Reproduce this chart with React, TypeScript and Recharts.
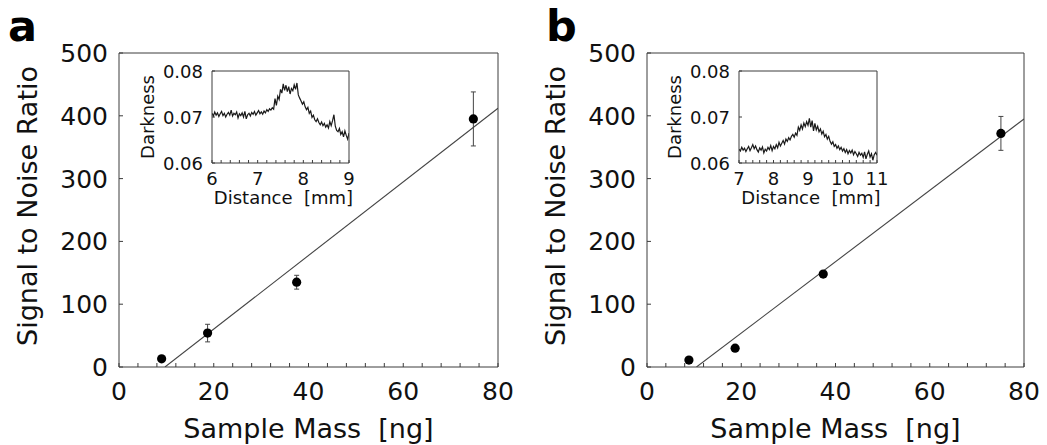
import React from 'react';
import { ComposedChart, LineChart, Line, Scatter, XAxis, YAxis, ErrorBar, Label } from 'recharts';

const FONT = '"DejaVu Sans", Verdana, sans-serif';
const INK = '#111';
const FRAME = '#3c3c3c';

// ---- Panel a (main) ----
const massA = [9.0, 18.7, 37.5, 74.8];
const snrA = [13, 54, 135, 395];
const errA = [0, 14, 11, 43];
const fitMassA = [9.7, 80];
const fitSnrA = [0, 412];

// ---- Panel b (main) ----
const massB = [8.9, 18.7, 37.4, 75.1];
const snrB = [11, 30, 148, 372];
const errB = [0, 0, 0, 27];
const fitMassB = [10.5, 80];
const fitSnrB = [0, 395];

const massTicks = [0, 20, 40, 60, 80];
const massMinorTicks = [0, 4, 8, 12, 16, 20, 24, 28, 32, 36, 40, 44, 48, 52, 56, 60, 64, 68, 72, 76, 80];
const snrTicks = [0, 100, 200, 300, 400, 500];

// ---- Inset a ----
const distStartA = 6;
const distStepA = 0.03;
const darknessA = [
  0.0708, 0.0702, 0.0711, 0.0704, 0.0709, 0.0701, 0.0707, 0.0712, 0.0703, 0.0708, 0.0700,
  0.0706, 0.0710, 0.0704, 0.0715, 0.0702, 0.0708, 0.0705, 0.0711, 0.0698, 0.0707,
  0.0703, 0.0709, 0.0700, 0.0712, 0.0696, 0.0705, 0.0708, 0.0702, 0.0710, 0.0706,
  0.0712, 0.0704, 0.0709, 0.0714, 0.0707, 0.0711, 0.0706, 0.0713, 0.0709, 0.0716,
  0.0712, 0.0718, 0.0715, 0.0720, 0.0717, 0.0740, 0.0725, 0.0745, 0.0738, 0.0760,
  0.0752, 0.0772, 0.0758, 0.0769, 0.0755, 0.0766, 0.0750, 0.0762, 0.0757, 0.0770,
  0.0760, 0.0774, 0.0748, 0.0741, 0.0735, 0.0728, 0.0733, 0.0722, 0.0716, 0.0721,
  0.0708, 0.0713, 0.0699, 0.0704, 0.0694, 0.0690, 0.0696, 0.0688, 0.0683, 0.0689,
  0.0681, 0.0686, 0.0678, 0.0683, 0.0676, 0.0690, 0.0681, 0.0692, 0.0705, 0.0680,
  0.0671, 0.0668, 0.0675, 0.0662, 0.0668, 0.0657, 0.0670, 0.0660, 0.0652, 0.0665,
];
const distTicksA = [6, 7, 8, 9];
const distMinorA = [6, 6.2, 6.4, 6.6, 6.8, 7, 7.2, 7.4, 7.6, 7.8, 8, 8.2, 8.4, 8.6, 8.8, 9];

// ---- Inset b ----
const distStartB = 7;
const distStepB = 0.04;
const darknessB = [
  0.0630, 0.0626, 0.0634, 0.0628, 0.0632, 0.0625, 0.0631, 0.0636, 0.0627, 0.0633, 0.0640,
  0.0631, 0.0637, 0.0629, 0.0624, 0.0633, 0.0628, 0.0635, 0.0622, 0.0630, 0.0626,
  0.0634, 0.0629, 0.0638, 0.0627, 0.0636, 0.0631, 0.0640, 0.0633, 0.0645, 0.0637,
  0.0643, 0.0649, 0.0641, 0.0652, 0.0647, 0.0655, 0.0650, 0.0658, 0.0662, 0.0656,
  0.0665, 0.0660, 0.0678, 0.0671, 0.0683, 0.0674, 0.0687, 0.0679, 0.0690, 0.0682,
  0.0697, 0.0678, 0.0692, 0.0670, 0.0686, 0.0672, 0.0680, 0.0668, 0.0674, 0.0663,
  0.0669, 0.0657, 0.0662, 0.0652, 0.0658, 0.0647, 0.0641, 0.0646, 0.0636, 0.0640,
  0.0632, 0.0637, 0.0629, 0.0634, 0.0626, 0.0631, 0.0623, 0.0629, 0.0620, 0.0627,
  0.0622, 0.0628, 0.0618, 0.0625, 0.0620, 0.0614, 0.0623, 0.0617, 0.0621, 0.0612,
  0.0624, 0.0609, 0.0619, 0.0626, 0.0613, 0.0620, 0.0606, 0.0618, 0.0623, 0.0617,
];
const distTicksB = [7, 8, 9, 10, 11];
const distMinorB = [7, 7.2, 7.4, 7.6, 7.8, 8, 8.2, 8.4, 8.6, 8.8, 9, 9.2, 9.4, 9.6, 9.8, 10, 10.2, 10.4, 10.6, 10.8, 11];

const darkTicks = [0.06, 0.07, 0.08];

// ---------- tick renderers ----------
const MainXTick = (p: any) => {
  const v = p.payload.value;
  if (!massTicks.includes(v)) return <g />;
  return (
    <text x={p.x} y={p.y + 33} textAnchor="middle" fontSize={25} fontFamily={FONT} fill={INK}>
      {v}
    </text>
  );
};

const MainYTick = (p: any) => (
  <text x={p.x} y={p.y + 9} textAnchor="end" fontSize={25} fontFamily={FONT} fill={INK}>
    {p.payload.value}
  </text>
);

const makeInsetXTick = (major: number[]) => (p: any) => {
  const v = p.payload.value;
  if (!major.includes(v)) return <g />;
  return (
    <text x={p.x} y={p.y + 22} textAnchor="middle" fontSize={18} fontFamily={FONT} fill={INK}>
      {v}
    </text>
  );
};

const InsetYTick = (p: any) => (
  <text x={p.x} y={p.y + 6.5} textAnchor="end" fontSize={18} fontFamily={FONT} fill={INK}>
    {Number(p.payload.value).toFixed(2)}
  </text>
);

const Dot = (p: any) => <circle cx={p.cx} cy={p.cy} r={4.6} fill="#000" />;

type Margin = { top: number; right: number; bottom: number; left: number };

function MainPanel(props: {
  mass: number[]; snr: number[]; err: number[]; fitMass: number[]; fitSnr: number[];
  left: number; width: number; margin: Margin;
}) {
  const { mass, snr, err, fitMass, fitSnr, left, width, margin } = props;
  const points = mass.map((m, i) => ({ mass: m, snr: snr[i], err: err[i] }));
  const fit = fitMass.map((m, i) => ({ mass: m, snr: fitSnr[i] }));
  return (
    <div style={{ position: 'absolute', left, top: 0 }}>
      <ComposedChart width={width} height={445} margin={margin}>
        <XAxis xAxisId="b" type="number" dataKey="mass" domain={[0, 80]} ticks={massMinorTicks}
          orientation="bottom" height={1} tickSize={-4} tickMargin={4} stroke={FRAME}
          tick={MainXTick} interval={0} allowDataOverflow>
          <Label content={(lp: any) => {
            const vb = lp.viewBox;
            return (
              <text x={vb.x + vb.width / 2} y={vb.y + 71} textAnchor="middle" fontSize={27}
                fontFamily={FONT} fill={INK}>{'Sample Mass\u00a0\u00a0[ng]'}</text>
            );
          }} />
        </XAxis>
        <XAxis xAxisId="t" type="number" dataKey="mass" domain={[0, 80]} ticks={massMinorTicks}
          orientation="top" height={1} tickSize={-4} stroke={FRAME} tick={false} interval={0} allowDataOverflow />
        <YAxis yAxisId="l" type="number" domain={[0, 500]} ticks={snrTicks} width={1}
          tickSize={-4} tickMargin={15} stroke={FRAME} tick={MainYTick} interval={0} allowDataOverflow>
          <Label content={(lp: any) => {
            const vb = lp.viewBox;
            const cx = vb.x - 81;
            const cy = vb.y + vb.height / 2 - 4;
            return (
              <text transform={`translate(${cx},${cy}) rotate(-90)`} x={0} y={0} textAnchor="middle"
                fontSize={27} fontFamily={FONT} fill={INK}>Signal to Noise Ratio</text>
            );
          }} />
        </YAxis>
        <YAxis yAxisId="r" orientation="right" type="number" domain={[0, 500]} ticks={snrTicks} width={1}
          tickSize={-4} stroke={FRAME} tick={false} interval={0} allowDataOverflow />
        <Line xAxisId="b" yAxisId="l" data={fit} dataKey="snr" type="linear" dot={false} activeDot={false}
          stroke="#444" strokeWidth={1.1} isAnimationActive={false} />
        <Scatter xAxisId="b" yAxisId="l" data={points} dataKey="snr" shape={Dot} isAnimationActive={false}>
          <ErrorBar dataKey="err" direction="y" width={2.5} stroke="#444" strokeWidth={1} />
        </Scatter>
      </ComposedChart>
    </div>
  );
}

function Inset(props: {
  start: number; step: number; values: number[]; major: number[]; minor: number[];
  domain: [number, number]; left: number; width: number; margin: Margin;
}) {
  const { start, step, values, major, minor, domain, left, width, margin } = props;
  const data = values.map((v, i) => ({ dist: Math.round((start + i * step) * 1000) / 1000, dark: v }));
  return (
    <div style={{ position: 'absolute', left, top: 55 }}>
      <LineChart width={width} height={155} margin={margin} data={data}>
        <XAxis xAxisId="b" type="number" dataKey="dist" domain={domain} ticks={minor} height={1}
          tickSize={-3} tickMargin={3} stroke={FRAME} interval={0} tick={makeInsetXTick(major)} allowDataOverflow>
          <Label content={(lp: any) => {
            const vb = lp.viewBox;
            return (
              <text x={vb.x + vb.width / 2 + 3} y={vb.y + 41} textAnchor="middle" fontSize={18}
                fontFamily={FONT} fill={INK}>{'Distance\u00a0\u00a0[mm]'}</text>
            );
          }} />
        </XAxis>
        <XAxis xAxisId="t" orientation="top" type="number" dataKey="dist" domain={domain} ticks={minor} height={1}
          tickSize={-3} stroke={FRAME} interval={0} tick={false} allowDataOverflow />
        <YAxis yAxisId="l" type="number" domain={[0.06, 0.08]} ticks={darkTicks} width={1}
          tickSize={-3} tickMargin={12} stroke={FRAME} interval={0} tick={InsetYTick} allowDataOverflow>
          <Label content={(lp: any) => {
            const vb = lp.viewBox;
            const cx = vb.x - 57;
            const cy = vb.y + vb.height / 2;
            return (
              <text transform={`translate(${cx},${cy}) rotate(-90)`} x={0} y={0} textAnchor="middle"
                fontSize={18} fontFamily={FONT} fill={INK}>Darkness</text>
            );
          }} />
        </YAxis>
        <YAxis yAxisId="r" orientation="right" type="number" domain={[0.06, 0.08]} ticks={darkTicks} width={1}
          tickSize={-3} stroke={FRAME} interval={0} tick={false} allowDataOverflow />
        <Line xAxisId="b" yAxisId="l" dataKey="dark" type="linear" dot={false} activeDot={false}
          stroke="#1a1a1a" strokeWidth={1.2} isAnimationActive={false} />
      </LineChart>
    </div>
  );
}

export default function App() {
  return (
    <div style={{ position: 'absolute', left: 0, top: 0, width: 1047, height: 445, background: '#fff', overflow: 'hidden' }}>
      <MainPanel mass={massA} snr={snrA} err={errA} fitMass={fitMassA} fitSnr={fitSnrA}
        left={0} width={520} margin={{ top: 52, right: 21, bottom: 77, left: 118 }} />
      <MainPanel mass={massB} snr={snrB} err={errB} fitMass={fitMassB} fitSnr={fitSnrB}
        left={528} width={519} margin={{ top: 52, right: 22, bottom: 77, left: 118 }} />
      <Inset start={distStartA} step={distStepA} values={darknessA} major={distTicksA} minor={distMinorA}
        domain={[6, 9]} left={125} width={255} margin={{ top: 15, right: 30, bottom: 46, left: 86 }} />
      <Inset start={distStartB} step={distStepB} values={darknessB} major={distTicksB} minor={distMinorB}
        domain={[7, 11]} left={650} width={257} margin={{ top: 15, right: 29, bottom: 46, left: 88 }} />
      <svg width={1047} height={60} style={{ position: 'absolute', left: 0, top: 0 }}>
        <text x={8} y={41} fontFamily={FONT} fontWeight="bold" fontSize={43} fill="#000">a</text>
        <text x={546} y={41} fontFamily={FONT} fontWeight="bold" fontSize={43} fill="#000">b</text>
      </svg>
    </div>
  );
}
